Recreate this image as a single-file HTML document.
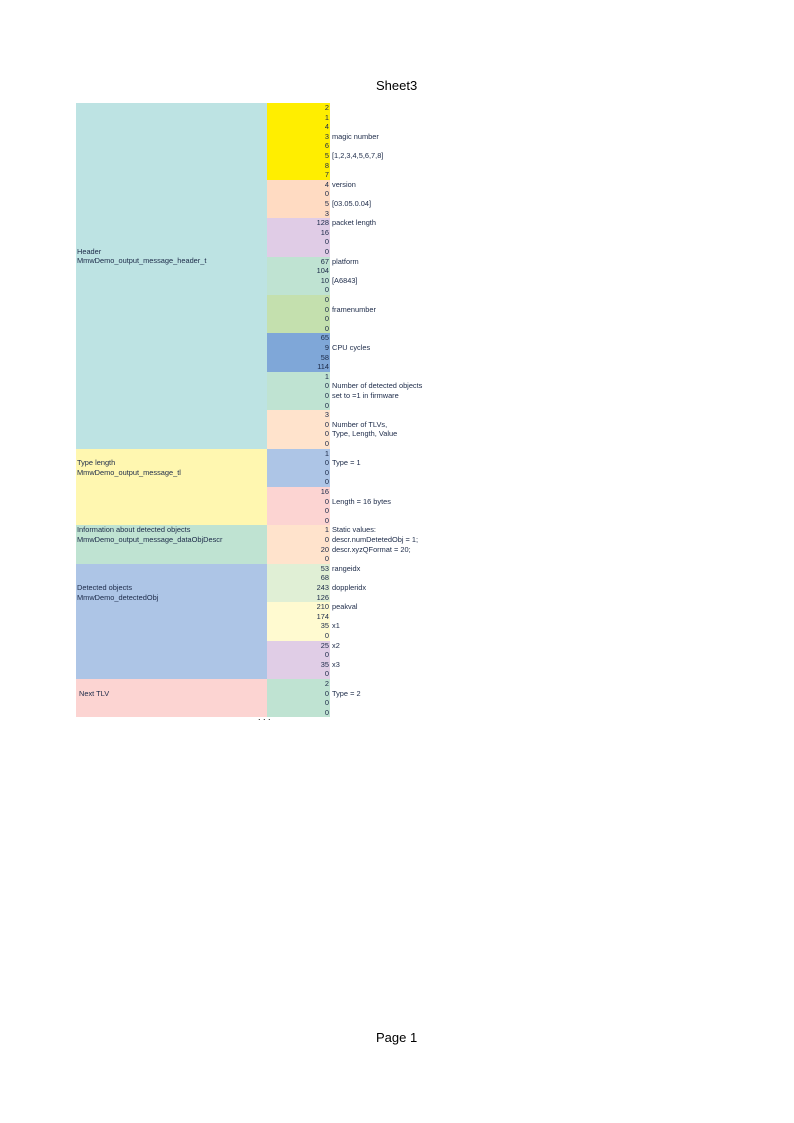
<!DOCTYPE html>
<html><head><meta charset="utf-8"><style>
body{margin:0;background:#fff;width:794px;height:1123px;position:relative;font-family:"Liberation Sans",sans-serif;color:#1c2a48;}
.t{position:absolute;font-size:13px;color:#000;}
.m{position:absolute;left:267px;width:63px;font-size:7.4px;line-height:9.6px;text-align:right;box-sizing:border-box;padding-right:1px;}
.l{position:absolute;left:76px;width:191px;font-size:7.4px;line-height:9.6px;padding-left:1px;box-sizing:border-box;white-space:nowrap;}
.r{position:absolute;left:332px;font-size:7.4px;line-height:9.6px;white-space:nowrap;}
</style></head><body>
<div class="t" style="left:376px;top:78px">Sheet3</div>
<div class="t" style="left:376px;top:1030px">Page 1</div>

<div class="l" style="top:103px;height:345.6px;background:#bde3e3"></div>
<div class="l" style="top:246.5px">Header<br>MmwDemo_output_message_header_t</div>
<div class="l" style="top:448.6px;height:76.8px;background:#fff7b0"></div>
<div class="l" style="top:458.2px">Type length<br>MmwDemo_output_message_tl</div>
<div class="l" style="top:525.4px;height:38.4px;background:#bfe3d2">Information about detected objects<br>MmwDemo_output_message_dataObjDescr</div>
<div class="l" style="top:563.8px;height:115.2px;background:#adc5e6"></div>
<div class="l" style="top:583px">Detected objects<br>MmwDemo_detectedObj</div>
<div class="l" style="top:679px;height:38.4px;background:#fcd4d2"></div>
<div class="l" style="top:688.6px;padding-left:3px">Next TLV</div>

<div class="m" style="top:103px;height:76.8px;background:#ffee00">2<br>1<br>4<br>3<br>6<br>5<br>8<br>7</div>
<div class="m" style="top:179.8px;height:38.4px;background:#ffdbc2">4<br>0<br>5<br>3</div>
<div class="m" style="top:218.2px;height:38.4px;background:#e0cce6">128<br>16<br>0<br>0</div>
<div class="m" style="top:256.6px;height:38.4px;background:#bfe3d2">67<br>104<br>10<br>0</div>
<div class="m" style="top:295px;height:38.4px;background:#c4e0ae">0<br>0<br>0<br>0</div>
<div class="m" style="top:333.4px;height:38.4px;background:#7fa7d8">65<br>9<br>58<br>114</div>
<div class="m" style="top:371.8px;height:38.4px;background:#bfe3d2">1<br>0<br>0<br>0</div>
<div class="m" style="top:410.2px;height:38.4px;background:#ffe3cc">3<br>0<br>0<br>0</div>
<div class="m" style="top:448.6px;height:38.4px;background:#adc5e6">1<br>0<br>0<br>0</div>
<div class="m" style="top:487px;height:38.4px;background:#fcd4d2">16<br>0<br>0<br>0</div>
<div class="m" style="top:525.4px;height:38.4px;background:#ffe3cc">1<br>0<br>20<br>0</div>
<div class="m" style="top:563.8px;height:38.4px;background:#e0efd5">53<br>68<br>243<br>126</div>
<div class="m" style="top:602.2px;height:38.4px;background:#fffad0">210<br>174<br>35<br>0</div>
<div class="m" style="top:640.6px;height:38.4px;background:#e0cde6">25<br>0<br>35<br>0</div>
<div class="m" style="top:679px;height:38.4px;background:#bfe3d2">2<br>0<br>0<br>0</div>

<div class="r" style="top:131.8px">magic number</div>
<div class="r" style="top:151px">[1,2,3,4,5,6,7,8]</div>
<div class="r" style="top:179.8px">version</div>
<div class="r" style="top:199px">[03.05.0.04]</div>
<div class="r" style="top:218.2px">packet length</div>
<div class="r" style="top:256.6px">platform</div>
<div class="r" style="top:275.8px">[A6843]</div>
<div class="r" style="top:304.6px">framenumber</div>
<div class="r" style="top:343px">CPU cycles</div>
<div class="r" style="top:381.4px">Number of detected objects<br>set to =1 in firmware</div>
<div class="r" style="top:419.8px">Number of TLVs,<br>Type, Length, Value</div>
<div class="r" style="top:458.2px">Type = 1</div>
<div class="r" style="top:496.6px">Length = 16 bytes</div>
<div class="r" style="top:525.4px">Static values:<br>descr.numDetetedObj = 1;<br>descr.xyzQFormat = 20;</div>
<div class="r" style="top:563.8px">rangeidx</div>
<div class="r" style="top:583px">doppleridx</div>
<div class="r" style="top:602.2px">peakval</div>
<div class="r" style="top:621.4px">x1</div>
<div class="r" style="top:640.6px">x2</div>
<div class="r" style="top:659.8px">x3</div>
<div class="r" style="top:688.6px">Type = 2</div>
<div class="t" style="left:258px;top:712px;font-size:9px">. . .</div>
</body></html>
